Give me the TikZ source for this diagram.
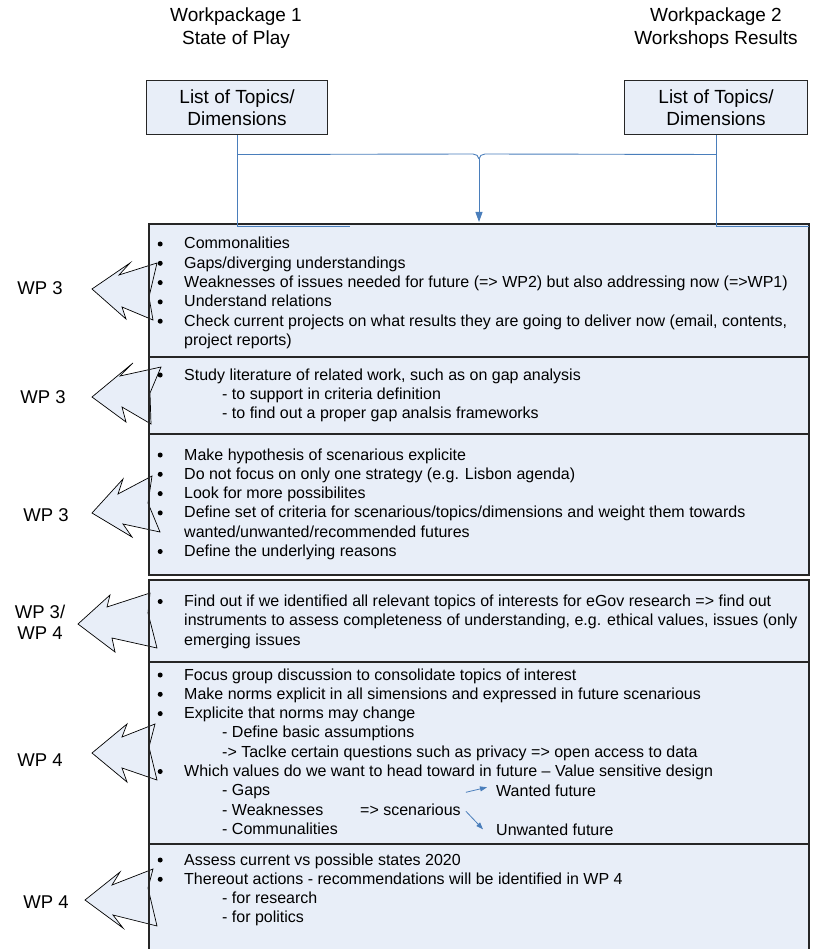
\documentclass[tikz,border=0pt]{standalone}
\usepackage{fontspec}
\setmainfont{Liberation Sans}
\usetikzlibrary{positioning, arrows.meta, calc}
\definecolor{boxfill}{HTML}{E8EEF8}
\definecolor{linkblue}{HTML}{4A7EBB}
\newcommand{\bul}{\makebox[27pt][l]{\hspace{0.5pt}\tikz[baseline=-5pt]\fill (0pt,0pt) circle (2.5pt);}}
\newcommand{\cont}{\hspace*{27pt}}
\newcommand{\subi}{\hspace*{65pt}}

\begin{document}
\begin{tikzpicture}[
         x=1pt, y=-1pt,
         wptitle/.style={font=\fontsize{19}{23}\selectfont, align=center},
         topicbox/.style={draw=black!85, fill=boxfill, line width=1pt, minimum width=181pt, minimum height=54pt, align=center, font=\fontsize{19}{22}\selectfont},
         stagebox/.style={draw=black!85, fill=boxfill, line width=1.2pt, minimum width=660pt, inner sep=0pt, outer sep=0pt},
         itemlist/.style={anchor=base west, inner sep=0pt, font=\fontsize{16}{19.3}\selectfont},
         wplabel/.style={font=\fontsize{18.5}{21}\selectfont, align=center},
         callout/.style={draw=black, fill=boxfill, line width=0.7pt, line join=miter},
         link/.style={draw=linkblue, line width=0.9pt},
         flow/.style={linkblue, line width=0.8pt, -{Triangle[length=7pt,width=5pt]}}
      ]
         \useasboundingbox (0,0) rectangle (812,949);

         % Stages of the analysis
         \node[stagebox, minimum height=133pt, anchor=north west] (commbox) at (149,224) {};
         \node[stagebox, minimum height=77pt, below=0pt of commbox] (litbox) {};
         \node[stagebox, minimum height=141pt, below=0pt of litbox] (hypbox) {};
         \node[stagebox, minimum height=82pt, below=5pt of hypbox] (checkbox) {};
         \node[stagebox, minimum height=182pt, below=0pt of checkbox] (normbox) {};
         \node[stagebox, minimum height=112pt, below=0pt of normbox] (statebox) {};

         % Workpackage inputs
         \node[wptitle] (wp1) at (236,28) {Workpackage 1\\State of Play};
         \node[wptitle] (wp2) at (716,28) {Workpackage 2\\Workshops Results};
         \node[topicbox] (topics1) at (237,108) {List of Topics/\\Dimensions};
         \node[topicbox, minimum width=183pt] (topics2) at (716,108) {List of Topics/\\Dimensions};

         % Links into the first stage
         \coordinate (stub1) at (350,226);
         \coordinate (stub2) at (809,226);
         \coordinate (merge) at ($(commbox.north)+(0,-65)$);
         \draw[link] (topics1.south) |- (stub1);
         \draw[link] (topics2.south) |- (stub2);
         \draw[link] (topics1.south) ++(0,19) -- ([shift={(-6pt,5pt)}]merge) to[out=0, in=90] (merge);
         \draw[link] (topics2.south) ++(0,19) -- ([shift={(6pt,5pt)}]merge) to[out=180, in=90] (merge);
         \draw[link, -{Triangle[length=10pt,width=7pt]}] (merge) -- ([yshift=2pt]commbox.north);

         % Callouts towards the workpackages
         \draw[callout] (92,289) -- (130,263) -- (119,275) -- (157,263) -- (149,297) -- (153,320) -- (122,307) -- (126,319) -- cycle;
         \draw[callout] (92,397) -- (133,363) -- (120,376) -- (161,367) -- (150,393) -- (151,424) -- (122,407) -- (126,422) -- cycle;
         \draw[callout] (92,513) -- (123,479) -- (118,494) -- (152,476) -- (148,503) -- (160,532) -- (123,524) -- (132,537) -- cycle;
         \draw[callout] (78,624) -- (110,595) -- (107,607) -- (150,593) -- (148,613) -- (157,648) -- (112,638) -- (115,652) -- cycle;
         \draw[callout] (92,753) -- (127,724) -- (122,737) -- (155,724) -- (149,747) -- (157,780) -- (122,768) -- (127,782) -- cycle;
         \draw[callout] (85,900) -- (120,872) -- (112,885) -- (153,869) -- (148,888) -- (157,926) -- (113,915) -- (123,928) -- cycle;
         \draw[line width=1.2pt, black!85] (commbox.north west) -- (hypbox.south west);
         \draw[line width=1.2pt, black!85] (checkbox.north west) -- (statebox.south west);

         \node[wplabel] (wp3a) at (40,288) {WP 3};
         \node[wplabel] (wp3b) at (43,397) {WP 3};
         \node[wplabel] (wp3c) at (46,515) {WP 3};
         \node[wplabel] (wp34) at (40,622) {WP 3/\\WP 4};
         \node[wplabel] (wp4a) at (40,760) {WP 4};
         \node[wplabel] (wp4b) at (46,902) {WP 4};

         % Lists of each stage
         \node[itemlist] (commlist) at ([shift={(8pt,-25pt)}]commbox.north west) {\begin{tabular}[t]{@{}l@{}}
            \bul Commonalities\\
            \bul Gaps/diverging understandings\\
            \bul Weaknesses of issues needed for future (=> WP2) but also addressing now (=>WP1)\\
            \bul Understand relations\\
            \bul Check current projects on what results they are going to deliver now (email, contents,\\
            \cont project reports)
         \end{tabular}};
         \node[itemlist] (litlist) at ([shift={(8pt,-23pt)}]litbox.north west) {\begin{tabular}[t]{@{}l@{}}
            \bul Study literature of related work, such as on gap analysis\\
            \subi - to support in criteria definition\\
            \subi - to find out a proper gap analsis frameworks
         \end{tabular}};
         \node[itemlist] (hyplist) at ([shift={(8pt,-26pt)}]hypbox.north west) {\begin{tabular}[t]{@{}l@{}}
            \bul Make hypothesis of scenarious explicite\\
            \bul Do not focus on only one strategy (e.g. Lisbon agenda)\\
            \bul Look for more possibilites\\
            \bul Define set of criteria for scenarious/topics/dimensions and weight them towards\\
            \cont wanted/unwanted/recommended futures\\
            \bul Define the underlying reasons
         \end{tabular}};
         \node[itemlist] (checklist) at ([shift={(8pt,-26.5pt)}]checkbox.north west) {\begin{tabular}[t]{@{}l@{}}
            \bul Find out if we identified all relevant topics of interests for eGov research => find out\\
            \cont instruments to assess completeness of understanding, e.g. ethical values, issues (only\\
            \cont emerging issues
         \end{tabular}};
         \node[itemlist] (normlist) at ([shift={(8pt,-18pt)}]normbox.north west) {\begin{tabular}[t]{@{}l@{}}
            \bul Focus group discussion to consolidate topics of interest\\
            \bul Make norms explicit in all simensions and expressed in future scenarious\\
            \bul Explicite that norms may change\\
            \subi - Define basic assumptions\\
            \subi -> Taclke certain questions such as privacy => open access to data\\
            \bul Which values do we want to head toward in future – Value sensitive design\\
            \subi - Gaps\\
            \subi - Weaknesses\\
            \subi - Communalities
         \end{tabular}};
         \node[itemlist] (statelist) at ([shift={(8pt,-21pt)}]statebox.north west) {\begin{tabular}[t]{@{}l@{}}
            \bul Assess current vs possible states 2020\\
            \bul Thereout actions - recommendations will be identified in WP 4\\
            \subi - for research\\
            \subi - for politics
         \end{tabular}};

         % Futures
         \node[itemlist] (scen) at (360,815) {=> scenarious};
         \node[itemlist] (wanted) at (496,796) {Wanted future};
         \node[itemlist] (unwanted) at (496,835) {Unwanted future};
         \draw[flow] ($(scen.east)+(5,-17)$) -- ($(wanted.west)+(-9,-3)$);
         \draw[flow] ($(scen.east)+(5,2)$) -- ($(unwanted.west)+(-13,0)$);
      \end{tikzpicture}
\end{document}
